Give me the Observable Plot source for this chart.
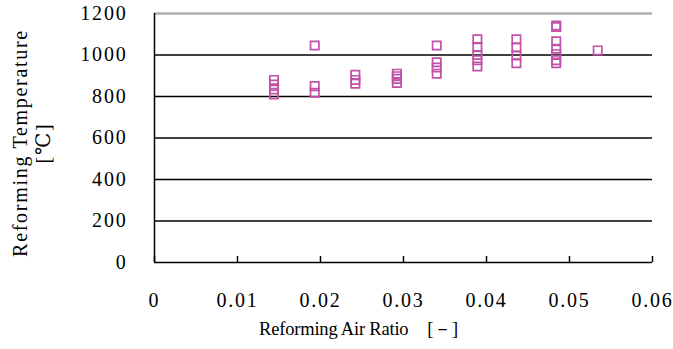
<!DOCTYPE html>
<html>
<head>
<meta charset="utf-8">
<script src="https://cdn.jsdelivr.net/npm/d3@7"></script>
<script src="https://cdn.jsdelivr.net/npm/@observablehq/plot@0.6"></script>
<style>
  html, body { margin: 0; padding: 0; background: #fff; }
  svg { display: block; }
</style>
</head>
<body>
<div id="chart"></div>
<script>
// Reforming air ratio groups and measured reforming temperatures
const airRatio = [
  0.0144, 0.0144, 0.0144, 0.0144,
  0.0193, 0.0193, 0.0193,
  0.0242, 0.0242, 0.0242,
  0.0292, 0.0292, 0.0292, 0.0292,
  0.0340, 0.0340, 0.0340, 0.0340,
  0.0389, 0.0389, 0.0389, 0.0389, 0.0389,
  0.0436, 0.0436, 0.0436, 0.0436,
  0.0484, 0.0484, 0.0484, 0.0484, 0.0484, 0.0484, 0.0484,
  0.0534
];
const temperature = [
  880, 858, 834, 810,
  1046, 850, 818,
  905, 880, 862,
  910, 898, 885, 865,
  1046, 965, 940, 910,
  1076, 1038, 1000, 975, 945,
  1076, 1036, 998, 960,
  1142, 1135, 1066, 1030, 1004, 975, 960,
  1022
];
const xTicks = [0, 0.01, 0.02, 0.03, 0.04, 0.05, 0.06];
const xTickLabels = ["0", "0.01", "0.02", "0.03", "0.04", "0.05", "0.06"];
const yTicks = [0, 200, 400, 600, 800, 1000, 1200];
const gridValues = [200, 400, 600, 800, 1000];
const xTitle = "Reforming Air Ratio\u3000[\uFF0D]";
const yTitle = "Reforming Temperature\n[\u2103]";

const data = airRatio.map((x, i) => ({x, y: temperature[i]}));
const font = "'Liberation Serif', 'DejaVu Serif', serif";

const chart = Plot.plot({
  width: 673,
  height: 349,
  marginLeft: 154,
  marginRight: 21,
  marginTop: 13,
  marginBottom: 87,
  style: {fontFamily: font, fontSize: "19px", color: "#000", background: "#fff", letterSpacing: "1.8px"},
  x: {domain: [0, 0.06]},
  y: {domain: [0, 1200]},
  marks: [
    Plot.ruleY(gridValues, {stroke: "#000", strokeWidth: 1.5}),
    Plot.ruleY([1200], {stroke: "#b0b0b0", strokeWidth: 2.5}),
    Plot.ruleY([0], {stroke: "#000", strokeWidth: 1.5}),
    Plot.ruleX([0], {stroke: "#000", strokeWidth: 1.5}),
    Plot.axisX({
      ticks: xTicks, tickFormat: (d, i) => xTickLabels[i],
      tickSize: -6, tickPadding: 36, strokeWidth: 1.5,
      label: null, fontSize: 20
    }),
    Plot.axisY({
      ticks: yTicks, tickSize: 0, tickPadding: 27, tickFormat: d => String(d),
      label: null, fontSize: 20
    }),
    Plot.dot(data, {
      x: "x", y: "y", symbol: "square", r: 4.7,
      stroke: "#c050a8", strokeWidth: 1.7, fill: "none"
    }),
    Plot.text([xTitle], {
      frameAnchor: "bottom", dy: 72, dx: -45, fontSize: 18.5,
      text: d => d, fill: "#000", className: "xtitle"
    }),
    Plot.text([yTitle], {
      frameAnchor: "left", textAnchor: "middle", dx: -123, dy: 5, rotate: -90, fontSize: 20,
      lineHeight: 1.15, text: d => d, fill: "#000", className: "ytitle"
    })
  ]
});
d3.select(chart).selectAll(".xtitle text").style("letter-spacing", "-0.2px");
d3.select(chart).selectAll(".ytitle text").style("letter-spacing", "1.7px");
document.getElementById("chart").append(chart);
</script>
</body>
</html>
